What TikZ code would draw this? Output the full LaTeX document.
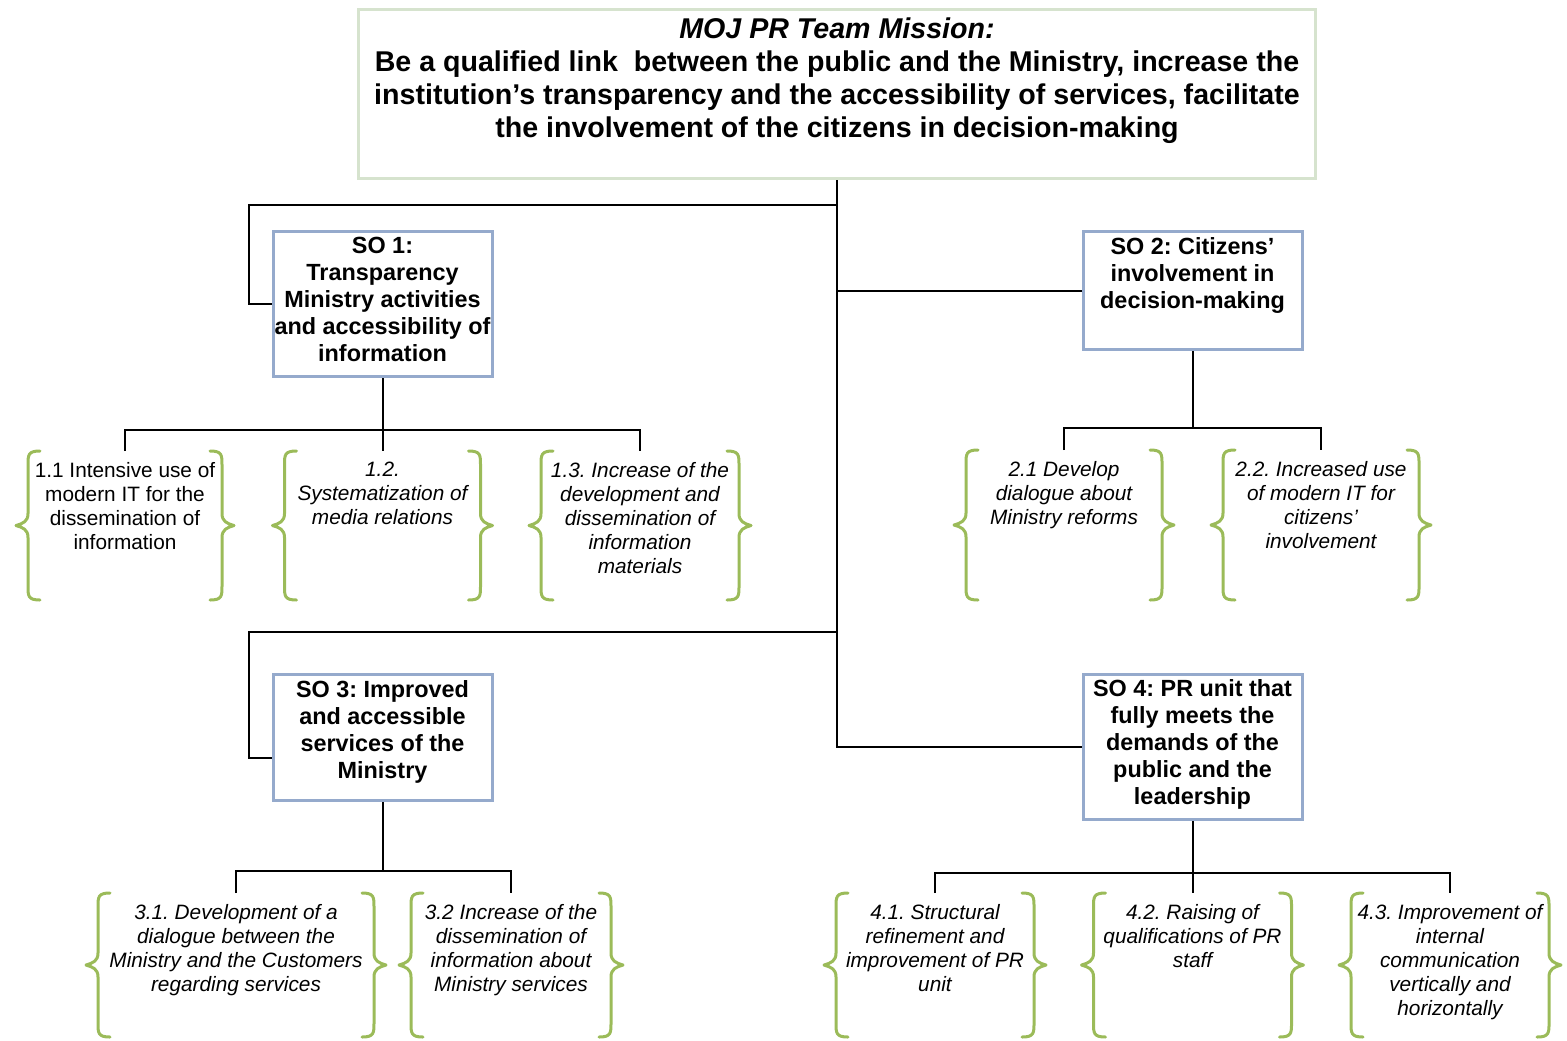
\documentclass[tikz,border=0pt]{standalone}
\usepackage{fontspec}
\setmainfont{Liberation Sans}
\usetikzlibrary{positioning}
\frenchspacing

\definecolor{missionframe}{RGB}{214,227,206}
\definecolor{soframe}{RGB}{149,170,204}
\definecolor{bracegreen}{RGB}{155,187,89}

% curly brackets left and right of a goal node: node, half width, height
\newcommand{\goalbraces}[3]{%
  \foreach \side in {1,-1} {
    \begin{scope}[shift={(#1.north)}, xscale=\side]
      \draw[curl] (-#2,0) .. controls ({-#2-12},0) and ({-#2-12},4) .. ({-#2-12},14)
        -- ({-#2-12},{#3/2-12}) .. controls ({-#2-12},{#3/2-4}) and ({-#2-17},{#3/2-2}) .. ({-#2-24},{#3/2})
        .. controls ({-#2-17},{#3/2+2}) and ({-#2-12},{#3/2+4}) .. ({-#2-12},{#3/2+12})
        -- ({-#2-12},{#3-14}) .. controls ({-#2-12},{#3-4}) and ({-#2-12},#3) .. (-#2,#3);
    \end{scope}
  }}

\begin{document}
\begin{tikzpicture}[x=0.5pt, y=-0.5pt,
  mission/.style={draw=missionframe, line width=1.5pt, minimum width=478.5pt,
    minimum height=84.5pt, align=center, font=\bfseries\fontsize{14.3}{16.5}\selectfont},
  sobox/.style={draw=soframe, line width=1.5pt, minimum width=109.5pt, align=center,
    inner sep=0pt, font=\bfseries\fontsize{11.7}{13.5}\selectfont},
  goal/.style={anchor=north, align=center, inner xsep=0pt, inner ysep=5.5pt,
    font=\fontsize{10.4}{12}\selectfont\itshape},
  curl/.style={draw=bracegreen, line width=1.5pt, line join=round, line cap=round},
  link/.style={draw, line width=1pt}]
  \useasboundingbox (0,0) rectangle (1567,1040);

  % mission
  \node[mission, text depth=16.5pt] (mission) at (837,94) {\textit{MOJ PR Team Mission:}\\
    Be a qualified link\ \ between the public and the Ministry, increase the\\
    institution’s transparency and the accessibility of services, facilitate\\
    the involvement of the citizens in decision-making};

  % strategic objectives
  \node[sobox, minimum height=72.5pt, text depth=4.5pt] (so1) at (382.5,304)
    {SO 1:\\Transparency\\Ministry activities\\and accessibility of\\information};
  \node[sobox, minimum height=59pt, text depth=17.5pt] (so2) at (1192.5,290.5)
    {SO 2: Citizens’\\involvement in\\decision-making};
  \node[sobox, minimum height=63pt, text depth=8pt] (so3) at (382.5,737.5)
    {SO 3: Improved\\and accessible\\services of the\\Ministry};
  \node[sobox, minimum height=72.5pt, text depth=4.5pt] (so4) at (1192.5,747)
    {SO 4: PR unit that\\fully meets the\\demands of the\\public and the\\leadership};

  % goals
  \node[goal, font=\fontsize{10.4}{12}\selectfont] (g11) at (125,451)
    {1.1 Intensive use of\\modern IT for the\\dissemination of\\information};
  \node[goal] (g12) at (382.5,451) {1.2.\\Systematization of\\media relations};
  \node[goal] (g13) at (640,451)
    {1.3. Increase of the\\development and\\dissemination of\\information\\materials};
  \node[goal] (g21) at (1064,450) {2.1 Develop\\dialogue about\\Ministry reforms};
  \node[goal] (g22) at (1321,450)
    {2.2. Increased use\\of modern IT for\\citizens’\\involvement};
  \node[goal] (g31) at (236,893)
    {3.1. Development of a\\dialogue between the\\Ministry and the Customers\\regarding services};
  \node[goal] (g32) at (511,893)
    {3.2 Increase of the\\dissemination of\\information about\\Ministry services};
  \node[goal] (g41) at (935,893)
    {4.1. Structural\\refinement and\\improvement of PR\\unit};
  \node[goal] (g42) at (1192.5,893) {4.2. Raising of\\qualifications of PR\\staff};
  \node[goal] (g43) at (1450,893)
    {4.3. Improvement of\\internal\\communication\\vertically and\\horizontally};

  \goalbraces{g11}{85}{149}
  \goalbraces{g12}{86}{149}
  \goalbraces{g13}{87}{149}
  \goalbraces{g21}{86}{150}
  \goalbraces{g22}{86}{150}
  \goalbraces{g31}{126}{144}
  \goalbraces{g32}{88}{144}
  \goalbraces{g41}{87}{144}
  \goalbraces{g42}{87}{144}
  \goalbraces{g43}{87}{144}

  % connectors
  \coordinate (bus1) at (249,205);
  \coordinate (bus3) at (249,632);
  \draw[link] (mission.south) |- (so4.west);
  \draw[link] (mission.south) |- (so2.west);
  \draw[link] (mission.south |- bus1) -- (bus1) |- (so1.west);
  \draw[link] (mission.south |- bus3) -- (bus3) |- ([yshift=-10pt]so3.west);

  \coordinate (bus11) at (382.5,430);
  \draw[link] (so1.south) -- (g12.north);
  \draw[link] (g11.north) |- (bus11) -| (g13.north);

  \coordinate (bus21) at (1192.5,428);
  \draw[link] (so2.south) -- (bus21);
  \draw[link] (g21.north) |- (bus21) -| (g22.north);

  \coordinate (bus31) at (382.5,871);
  \draw[link] (so3.south) -- (bus31);
  \draw[link] (g31.north) |- (bus31) -| (g32.north);

  \coordinate (bus41) at (1192.5,873);
  \draw[link] (so4.south) -- (g42.north);
  \draw[link] (g41.north) |- (bus41) -| (g43.north);
\end{tikzpicture}
\end{document}
